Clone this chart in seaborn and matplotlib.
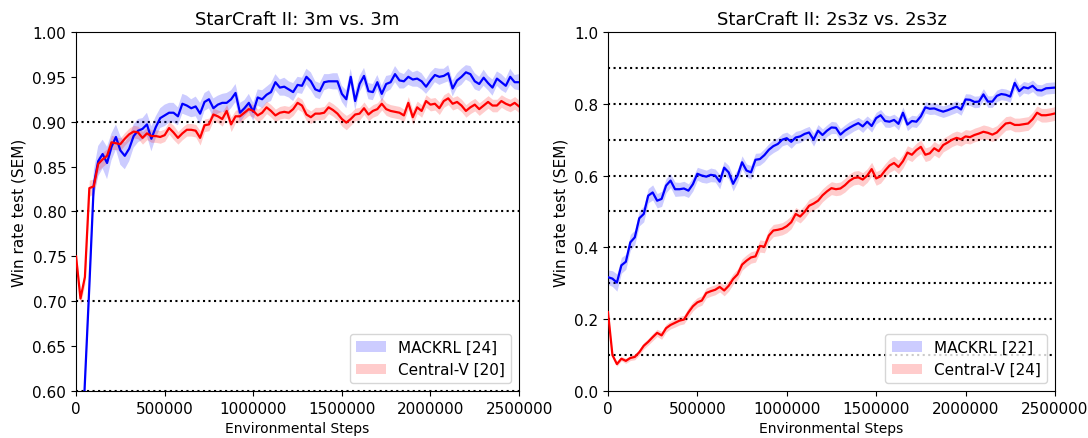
import numpy as np
import pandas as pd
import matplotlib
matplotlib.use("Agg")
import matplotlib.pyplot as plt
import seaborn as sns
from matplotlib.patches import Patch

## data (one point every 25000 steps)
steps = np.arange(0, 2500001, 25000)

mackrl_3m = [
    0.400, 0.500, 0.610, 0.717, 0.830, 0.856, 0.864, 0.854, 0.872, 0.883,
    0.868, 0.862, 0.870, 0.884, 0.890, 0.892, 0.897, 0.881, 0.894, 0.904,
    0.907, 0.910, 0.910, 0.906, 0.920, 0.918, 0.915, 0.917, 0.909, 0.922,
    0.925, 0.915, 0.919, 0.921, 0.921, 0.925, 0.932, 0.910, 0.915, 0.921,
    0.911, 0.927, 0.925, 0.930, 0.933, 0.944, 0.938, 0.939, 0.936, 0.933,
    0.941, 0.940, 0.950, 0.945, 0.936, 0.934, 0.944, 0.945, 0.945, 0.945,
    0.931, 0.925, 0.950, 0.923, 0.942, 0.951, 0.934, 0.933, 0.944, 0.931,
    0.942, 0.944, 0.953, 0.946, 0.945, 0.950, 0.947, 0.948, 0.945, 0.939,
    0.946, 0.952, 0.950, 0.951, 0.954, 0.937, 0.946, 0.950, 0.955, 0.953,
    0.945, 0.942, 0.949, 0.943, 0.938, 0.948, 0.944, 0.940, 0.950, 0.944, 0.944]
sem_mackrl_3m = [
    0.010, 0.012, 0.015, 0.016, 0.015, 0.017, 0.016, 0.018, 0.015, 0.014,
    0.016, 0.015, 0.014, 0.013, 0.013, 0.012, 0.013, 0.014, 0.012, 0.011,
    0.012, 0.011, 0.011, 0.010, 0.011, 0.011, 0.010, 0.011, 0.012, 0.010,
    0.010, 0.011, 0.010, 0.010, 0.011, 0.010, 0.010, 0.011, 0.009, 0.010,
    0.010, 0.009, 0.010, 0.009, 0.010, 0.009, 0.009, 0.010, 0.009, 0.010,
    0.009, 0.009, 0.009, 0.010, 0.009, 0.009, 0.009, 0.008, 0.009, 0.009,
    0.009, 0.010, 0.009, 0.010, 0.009, 0.009, 0.009, 0.009, 0.008, 0.009,
    0.009, 0.008, 0.009, 0.009, 0.008, 0.009, 0.008, 0.009, 0.009, 0.008,
    0.009, 0.008, 0.009, 0.008, 0.009, 0.009, 0.008, 0.009, 0.008, 0.009,
    0.009, 0.008, 0.009, 0.008, 0.009, 0.008, 0.009, 0.008, 0.009, 0.008, 0.009]

central_3m = [
    0.750, 0.703, 0.727, 0.826, 0.828, 0.853, 0.858, 0.862, 0.877, 0.876,
    0.875, 0.881, 0.886, 0.889, 0.888, 0.882, 0.887, 0.884, 0.884, 0.883,
    0.885, 0.893, 0.888, 0.882, 0.887, 0.891, 0.891, 0.890, 0.882, 0.896,
    0.897, 0.908, 0.906, 0.903, 0.912, 0.897, 0.906, 0.906, 0.910, 0.914,
    0.912, 0.907, 0.910, 0.916, 0.912, 0.907, 0.910, 0.911, 0.910, 0.914,
    0.921, 0.918, 0.908, 0.905, 0.909, 0.909, 0.910, 0.916, 0.913, 0.909,
    0.903, 0.899, 0.903, 0.908, 0.909, 0.915, 0.908, 0.912, 0.914, 0.920,
    0.914, 0.912, 0.911, 0.910, 0.907, 0.921, 0.905, 0.916, 0.912, 0.923,
    0.919, 0.920, 0.915, 0.923, 0.926, 0.920, 0.922, 0.918, 0.912, 0.916,
    0.919, 0.914, 0.918, 0.922, 0.918, 0.918, 0.923, 0.920, 0.918, 0.921, 0.917]
sem_central_3m = [
    0.006, 0.007, 0.008, 0.009, 0.008, 0.008, 0.008, 0.008, 0.008, 0.007,
    0.007, 0.007, 0.007, 0.007, 0.007, 0.007, 0.007, 0.007, 0.007, 0.007,
    0.007, 0.007, 0.008, 0.007, 0.007, 0.007, 0.007, 0.007, 0.008, 0.007,
    0.007, 0.007, 0.007, 0.008, 0.007, 0.008, 0.007, 0.007, 0.007, 0.007,
    0.007, 0.007, 0.007, 0.007, 0.007, 0.007, 0.007, 0.007, 0.007, 0.007,
    0.007, 0.007, 0.007, 0.007, 0.007, 0.007, 0.007, 0.007, 0.007, 0.007,
    0.008, 0.008, 0.007, 0.007, 0.007, 0.007, 0.007, 0.007, 0.007, 0.007,
    0.007, 0.007, 0.007, 0.007, 0.007, 0.007, 0.008, 0.007, 0.007, 0.007,
    0.007, 0.007, 0.007, 0.007, 0.007, 0.007, 0.007, 0.007, 0.007, 0.007,
    0.007, 0.007, 0.007, 0.007, 0.007, 0.007, 0.007, 0.007, 0.007, 0.007, 0.007]

mackrl_2s3z = [
    0.317, 0.313, 0.302, 0.350, 0.360, 0.414, 0.428, 0.481, 0.493, 0.544,
    0.553, 0.530, 0.535, 0.572, 0.586, 0.562, 0.562, 0.564, 0.558, 0.576,
    0.605, 0.600, 0.597, 0.602, 0.600, 0.583, 0.622, 0.609, 0.577, 0.600,
    0.637, 0.614, 0.609, 0.644, 0.646, 0.657, 0.672, 0.682, 0.688, 0.700,
    0.704, 0.694, 0.706, 0.709, 0.716, 0.720, 0.700, 0.725, 0.713, 0.725,
    0.734, 0.733, 0.714, 0.725, 0.733, 0.740, 0.746, 0.737, 0.750, 0.738,
    0.760, 0.768, 0.752, 0.750, 0.755, 0.744, 0.775, 0.742, 0.752, 0.750,
    0.765, 0.790, 0.786, 0.787, 0.782, 0.778, 0.782, 0.787, 0.792, 0.784,
    0.812, 0.811, 0.805, 0.806, 0.826, 0.806, 0.806, 0.822, 0.827, 0.825,
    0.820, 0.858, 0.835, 0.846, 0.843, 0.850, 0.838, 0.837, 0.843, 0.844, 0.845]
sem_mackrl_2s3z = [
    0.020, 0.022, 0.024, 0.022, 0.021, 0.022, 0.020, 0.021, 0.022, 0.020,
    0.021, 0.020, 0.021, 0.020, 0.019, 0.020, 0.019, 0.020, 0.019, 0.019,
    0.018, 0.019, 0.018, 0.019, 0.018, 0.020, 0.018, 0.019, 0.020, 0.018,
    0.018, 0.018, 0.019, 0.018, 0.017, 0.018, 0.017, 0.018, 0.017, 0.017,
    0.017, 0.018, 0.017, 0.017, 0.016, 0.017, 0.018, 0.017, 0.017, 0.016,
    0.017, 0.016, 0.017, 0.016, 0.017, 0.016, 0.016, 0.017, 0.016, 0.017,
    0.016, 0.016, 0.017, 0.016, 0.016, 0.017, 0.016, 0.017, 0.016, 0.016,
    0.016, 0.016, 0.016, 0.016, 0.016, 0.016, 0.016, 0.016, 0.016, 0.016,
    0.016, 0.016, 0.016, 0.016, 0.016, 0.016, 0.016, 0.016, 0.016, 0.016,
    0.016, 0.016, 0.016, 0.016, 0.016, 0.016, 0.016, 0.016, 0.016, 0.016, 0.016]

central_2s3z = [
    0.220, 0.100, 0.075, 0.090, 0.084, 0.092, 0.095, 0.108, 0.126, 0.137,
    0.150, 0.162, 0.155, 0.175, 0.184, 0.190, 0.196, 0.199, 0.219, 0.236,
    0.247, 0.252, 0.273, 0.278, 0.282, 0.290, 0.280, 0.293, 0.312, 0.325,
    0.352, 0.363, 0.372, 0.375, 0.404, 0.402, 0.433, 0.447, 0.449, 0.452,
    0.459, 0.470, 0.493, 0.486, 0.499, 0.516, 0.522, 0.530, 0.545, 0.556,
    0.565, 0.562, 0.564, 0.573, 0.585, 0.593, 0.595, 0.589, 0.600, 0.618,
    0.592, 0.598, 0.614, 0.628, 0.635, 0.624, 0.640, 0.664, 0.658, 0.671,
    0.680, 0.658, 0.662, 0.676, 0.668, 0.685, 0.692, 0.700, 0.705, 0.701,
    0.709, 0.707, 0.713, 0.717, 0.722, 0.719, 0.714, 0.720, 0.733, 0.745,
    0.747, 0.741, 0.741, 0.743, 0.745, 0.757, 0.775, 0.768, 0.768, 0.770, 0.773]
sem_central_2s3z = [
    0.004, 0.005, 0.006, 0.006, 0.007, 0.007, 0.008, 0.008, 0.009, 0.009,
    0.010, 0.010, 0.011, 0.011, 0.011, 0.012, 0.012, 0.012, 0.013, 0.013,
    0.013, 0.013, 0.014, 0.014, 0.014, 0.014, 0.015, 0.015, 0.015, 0.015,
    0.016, 0.016, 0.016, 0.016, 0.017, 0.017, 0.017, 0.017, 0.017, 0.017,
    0.018, 0.018, 0.018, 0.018, 0.018, 0.018, 0.018, 0.018, 0.018, 0.018,
    0.018, 0.018, 0.018, 0.019, 0.019, 0.019, 0.019, 0.019, 0.019, 0.019,
    0.019, 0.019, 0.019, 0.019, 0.019, 0.019, 0.019, 0.019, 0.019, 0.019,
    0.019, 0.019, 0.019, 0.019, 0.019, 0.019, 0.019, 0.019, 0.019, 0.019,
    0.019, 0.019, 0.019, 0.019, 0.019, 0.019, 0.019, 0.019, 0.019, 0.019,
    0.019, 0.019, 0.019, 0.019, 0.019, 0.019, 0.019, 0.019, 0.019, 0.019, 0.019]

titles = ["StarCraft II: 3m vs. 3m", "StarCraft II: 2s3z vs. 2s3z"]
labels_3m = ["MACKRL [24]", "Central-V [20]"]
labels_2s3z = ["MACKRL [22]", "Central-V [24]"]
hlines_3m = [0.6, 0.7, 0.8, 0.9]
hlines_2s3z = [0.1, 0.2, 0.3, 0.4, 0.5, 0.6, 0.7, 0.8, 0.9]
xticks = [0, 500000, 1000000, 1500000, 2000000, 2500000]
yticks_3m = [0.60, 0.65, 0.70, 0.75, 0.80, 0.85, 0.90, 0.95, 1.00]
yticks_2s3z = [0.0, 0.2, 0.4, 0.6, 0.8, 1.0]

colors = {"MACKRL": "#0000ff", "Central-V": "#ff0000"}

plt.rcParams['font.family'] = ['DejaVu Sans']
plt.rcParams['font.size'] = 10

fig = plt.figure(figsize=(10.88, 4.39), dpi=100)
ax1 = fig.add_axes([0.0699, 0.107, 0.4072, 0.818])
ax2 = fig.add_axes([0.5588, 0.107, 0.4108, 0.818])

panels = [
    (ax1, mackrl_3m, sem_mackrl_3m, central_3m, sem_central_3m, labels_3m, hlines_3m, yticks_3m, (0.6, 1.0), "%.2f"),
    (ax2, mackrl_2s3z, sem_mackrl_2s3z, central_2s3z, sem_central_2s3z, labels_2s3z, hlines_2s3z, yticks_2s3z, (0.0, 1.0), "%.1f"),
]

for k, (ax, m, sm, c, sc, labs, hl, yt, ylim, fmt) in enumerate(panels):
    df = pd.DataFrame({
        "steps": np.concatenate([steps, steps]),
        "win": np.concatenate([m, c]),
        "sem": np.concatenate([sm, sc]),
        "algo": ["MACKRL"] * len(steps) + ["Central-V"] * len(steps),
    })
    for y in hl:
        ax.axhline(y, color="black", ls=":", lw=1.5, zorder=1)
    for algo, g in df.groupby("algo", sort=False):
        ax.fill_between(g["steps"], g["win"] - g["sem"], g["win"] + g["sem"],
                        color=colors[algo], alpha=0.2, lw=0, zorder=2)
    sns.lineplot(data=df, x="steps", y="win", hue="algo", palette=colors,
                 lw=1.6, ax=ax, legend=False, zorder=3)
    ax.set_xlim(0, 2500000)
    ax.set_ylim(*ylim)
    ax.set_xticks(xticks)
    ax.set_yticks(yt)
    ax.set_yticklabels([fmt % v for v in yt])
    ax.ticklabel_format(axis="x", style="plain")
    ax.tick_params(labelsize=11)
    ax.set_title(titles[k], fontsize=13)
    ax.set_xlabel("Environmental Steps", fontsize=10)
    ax.set_ylabel("Win rate test (SEM)", fontsize=11)
    handles = [Patch(facecolor=colors["MACKRL"], alpha=0.2),
               Patch(facecolor=colors["Central-V"], alpha=0.2)]
    ax.legend(handles, labs, loc="lower right", fontsize=11)

fig.savefig("out.png", dpi=100)
